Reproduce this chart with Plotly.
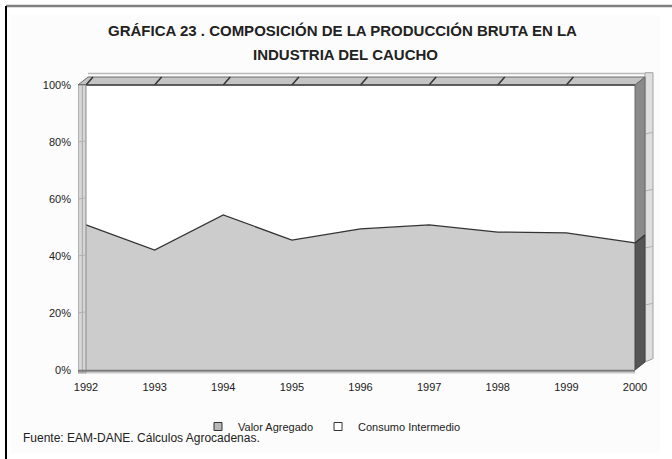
import plotly.graph_objects as go

# ---- data ----
years = [1992, 1993, 1994, 1995, 1996, 1997, 1998, 1999, 2000]
valor_agregado = [50.9, 42.1, 54.4, 45.6, 49.5, 50.9, 48.4, 48.1, 44.6]
consumo_intermedio = [100 - v for v in valor_agregado]
y_ticks = [0, 20, 40, 60, 80, 100]
y_tick_labels = ["0%", "20%", "40%", "60%", "80%", "100%"]

title_line1 = "GRÁFICA 23 . COMPOSICIÓN DE LA PRODUCCIÓN BRUTA EN LA"
title_line2 = "INDUSTRIA DEL CAUCHO"
source_text = "Fuente: EAM-DANE. Cálculos Agrocadenas."

FONT = "Liberation Sans, Arial, sans-serif"

# ---- layout geometry ----
W, H = 672, 459
ML, MR, MT, MB = 78, 16, 66, 85
x0, x1 = years[0], years[-1]
x_range = [1991.8834, 2000.306]
y_range = [-1.404, 106.667]
pw = W - ML - MR
ph = H - MT - MB
px_per_x = pw / (x_range[1] - x_range[0])
px_per_y = ph / (y_range[1] - y_range[0])
DX = 10 / px_per_x      # depth offset (x, data units)
DY = 8 / px_per_y       # depth offset (y, data units)
LW = 8 / px_per_x       # left wall strip width
RW = 8 / px_per_x       # right outer strip width


def paper_x(px):
    return (px - ML) / pw


def paper_y(py):
    return (H - MB - py) / ph


fig = go.Figure()

fig.add_trace(go.Scatter(
    x=years, y=valor_agregado, name="Valor Agregado",
    stackgroup="s", mode="lines",
    line=dict(color="#333333", width=1.3),
    fillcolor="#cccccc", showlegend=False, hoverinfo="x+y",
))
fig.add_trace(go.Scatter(
    x=years, y=consumo_intermedio, name="Consumo Intermedio",
    stackgroup="s", mode="lines",
    line=dict(color="rgba(0,0,0,0)", width=0),
    fillcolor="#ffffff", showlegend=False, hoverinfo="x+y",
))
# legend entries
fig.add_trace(go.Scatter(
    x=[None], y=[None], name="Valor Agregado", mode="markers",
    marker=dict(symbol="square", size=8, color="#b8b8b8",
                line=dict(color="#333333", width=1)),
))
fig.add_trace(go.Scatter(
    x=[None], y=[None], name="Consumo Intermedio", mode="markers",
    marker=dict(symbol="square", size=8, color="#ffffff",
                line=dict(color="#333333", width=1)),
))

shapes = []
v_end = valor_agregado[-1]
top = 100

# outer frame and faint background
shapes.append(dict(type="rect", xref="paper", yref="paper",
                   x0=paper_x(11), x1=paper_x(660), y0=paper_y(453), y1=paper_y(15),
                   fillcolor="#fcfcfc", line=dict(width=0), layer="below"))
shapes.append(dict(type="rect", xref="paper", yref="paper",
                   x0=paper_x(86), x1=paper_x(635), y0=paper_y(370), y1=paper_y(85),
                   fillcolor="#ffffff", line=dict(width=0), layer="below"))
shapes.append(dict(type="line", xref="paper", yref="paper",
                   x0=paper_x(6), x1=paper_x(672), y0=paper_y(6), y1=paper_y(6),
                   line=dict(color="#808080", width=2.5)))
shapes.append(dict(type="line", xref="paper", yref="paper",
                   x0=paper_x(6), x1=paper_x(6), y0=paper_y(6), y1=paper_y(459),
                   line=dict(color="#000000", width=2)))

# right outer strip (back wall edge)
shapes.append(dict(type="path", xref="x", yref="y",
                   path=f"M {x1+DX},{DY} L {x1+DX+RW},{DY+1.2} L {x1+DX+RW},{top+DY+1.5} L {x1+DX},{top+DY+1.5} Z",
                   fillcolor="#dedede", line=dict(color="#a0a0a0", width=1)))
for t in y_ticks[1:-1]:
    shapes.append(dict(type="line", xref="x", yref="y",
                       x0=x1+DX, x1=x1+DX+RW, y0=t+DY, y1=t+DY+0.6,
                       line=dict(color="#b0b0b0", width=1)))

# top band (depth of the 100% surface)
shapes.append(dict(type="path", xref="x", yref="y",
                   path=f"M {x0-LW},{top} L {x0-LW+DX},{top+DY} L {x1+DX},{top+DY} L {x1},{top} Z",
                   fillcolor="#c4c4c4", line=dict(color="#6a6a6a", width=1)))
shapes.append(dict(type="line", xref="x", yref="y",
                   x0=x0-LW+DX, x1=x1+DX, y0=top+DY+1.2, y1=top+DY+1.2,
                   line=dict(color="#b8b8b8", width=1.5)))
for yr in years[:-1]:
    shapes.append(dict(type="line", xref="x", yref="y",
                       x0=yr, x1=yr+DX*0.7, y0=top, y1=top+DY,
                       line=dict(color="#333333", width=1.5)))
shapes.append(dict(type="line", xref="x", yref="y",
                   x0=x0-LW, x1=x1, y0=top, y1=top,
                   line=dict(color="#444444", width=1.5)))

# right side faces
shapes.append(dict(type="path", xref="x", yref="y",
                   path=f"M {x1},{v_end} L {x1+DX},{v_end+DY} L {x1+DX},{top+DY} L {x1},{top} Z",
                   fillcolor="#8a8a8a", line=dict(color="#6a6a6a", width=1)))
shapes.append(dict(type="path", xref="x", yref="y",
                   path=f"M {x1},0 L {x1+DX},{DY} L {x1+DX},{v_end+DY} L {x1},{v_end} Z",
                   fillcolor="#555555", line=dict(color="#444444", width=1)))
shapes.append(dict(type="line", xref="x", yref="y",
                   x0=x1, x1=x1+DX, y0=v_end, y1=v_end+DY,
                   line=dict(color="#333333", width=1.3)))

# left wall strip
shapes.append(dict(type="rect", xref="x", yref="y",
                   x0=x0-LW, x1=x0, y0=-1.0, y1=top,
                   fillcolor="#d6d6d6", line=dict(color="#8a8a8a", width=1)))
shapes.append(dict(type="line", xref="x", yref="y",
                   x0=x0-LW*0.45, x1=x0-LW*0.45, y0=-1.0, y1=top,
                   line=dict(color="#a8a8a8", width=1)))
for t in y_ticks[1:-1]:
    shapes.append(dict(type="line", xref="x", yref="y",
                       x0=x0-LW, x1=x0, y0=t, y1=t+0.4,
                       line=dict(color="#b0b0b0", width=1)))

# floor edge
shapes.append(dict(type="line", xref="x", yref="y",
                   x0=x0-LW, x1=x1, y0=-0.25, y1=-0.25,
                   line=dict(color="#7a7a7a", width=2)))
shapes.append(dict(type="line", xref="x", yref="y",
                   x0=x0-LW, x1=x1, y0=-1.0, y1=-1.0,
                   line=dict(color="#b0b0b0", width=1)))

annotations = [
    dict(text=f"<b>{title_line1}</b>", xref="paper", yref="paper",
         x=paper_x(342), y=paper_y(30), showarrow=False,
         font=dict(family=FONT, size=15, color="#222222"),
         xanchor="center", yanchor="middle"),
    dict(text=f"<b>{title_line2}</b>", xref="paper", yref="paper",
         x=paper_x(345), y=paper_y(55), showarrow=False,
         font=dict(family=FONT, size=15, color="#222222"),
         xanchor="center", yanchor="middle"),
    dict(text=source_text, xref="paper", yref="paper",
         x=paper_x(21), y=paper_y(438), showarrow=False,
         font=dict(family=FONT, size=12, color="#222222"),
         xanchor="left", yanchor="middle"),
]

fig.update_layout(
    width=W, height=H,
    margin=dict(l=ML, r=MR, t=MT, b=MB),
    paper_bgcolor="#ffffff", plot_bgcolor="rgba(0,0,0,0)",
    shapes=shapes, annotations=annotations,
    showlegend=True,
    legend=dict(orientation="h", x=paper_x(198), y=paper_y(412),
                xanchor="left", yanchor="top", traceorder="normal",
                font=dict(family=FONT, size=11, color="#222222"),
                itemwidth=30, bgcolor="rgba(0,0,0,0)", tracegroupgap=0),
    xaxis=dict(range=x_range, tickmode="array", tickvals=years,
               ticktext=[str(y) for y in years],
               showgrid=False, zeroline=False, showline=False, ticks="",
               ticklabelstandoff=5,
               tickfont=dict(family=FONT, size=11, color="#222222"),
               fixedrange=True),
    yaxis=dict(range=y_range, tickmode="array", tickvals=y_ticks,
               ticktext=y_tick_labels,
               showgrid=False, zeroline=False, showline=False, ticks="",
               ticklabelstandoff=6,
               tickfont=dict(family=FONT, size=11, color="#222222"),
               fixedrange=True),
)

fig.write_html("out.html", config={"displayModeBar": False},
               post_script="document.body.style.margin='0px';")
